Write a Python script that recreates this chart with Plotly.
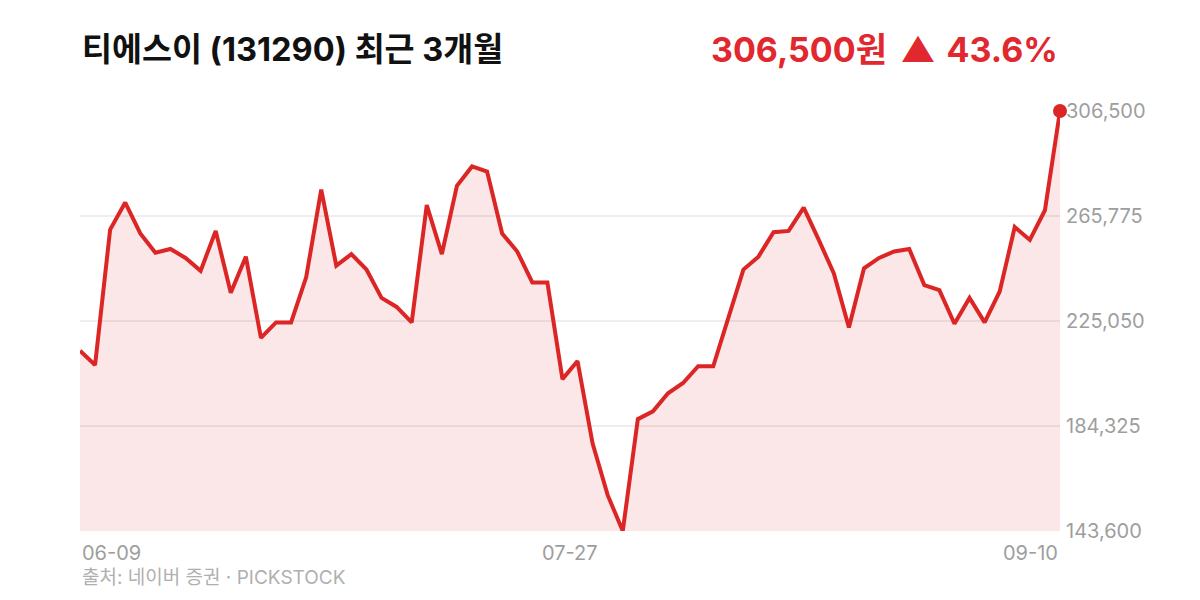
import plotly.graph_objects as go

title_text = "티에스이 (131290) 최근 3개월"
price_text = "306,500원\u00a0\u2009▲\u200a 43.6%"
source_text = "출처: 네이버 증권 · PICKSTOCK"

prices = [
    213500, 208000, 260500, 271000, 259000, 251500, 253000, 249500, 244500, 260000,
    236000, 250000, 218500, 224500, 224500, 242000, 276000, 246500, 251000, 245000,
    234000, 230500, 224500, 270000, 251000, 277500, 285000, 283000, 259000, 252000,
    240000, 240000, 202500, 209500, 177500, 157500, 143600, 187000, 190000, 197000,
    201000, 207500, 207500, 226500, 245000, 250000, 259500, 260000, 269000, 256500,
    243500, 222500, 245500, 249500, 252000, 253000, 239000, 237000, 224000, 234000,
    224500, 236500, 261500, 256500, 268000, 306500,
]
x_labels = ["06-09", "07-27", "09-10"]
y_ticks = [143600, 184325, 225050, 265775, 306500]

RED = "#dc2626"
FONT = "Inter, 'Noto Sans CJK KR', sans-serif"
GRAY = "#9e9e9e"

idx = list(range(len(prices)))
n = len(prices)

fig = go.Figure()
fig.add_trace(go.Scatter(
    x=idx, y=prices, mode="lines",
    line=dict(color=RED, width=4),
    fill="tozeroy", fillcolor="rgba(220,38,38,0.11)",
    hoverinfo="skip", showlegend=False,
))
fig.add_trace(go.Scatter(
    x=[idx[-1]], y=[prices[-1]], mode="markers",
    marker=dict(color=RED, size=14),
    cliponaxis=False, hoverinfo="skip", showlegend=False,
))

fig.update_layout(
    width=1192, height=592,
    margin=dict(l=72, r=140, t=103, b=69),
    paper_bgcolor="white", plot_bgcolor="white",
    font=dict(family=FONT),
    xaxis=dict(range=[0, n - 1], showgrid=False, zeroline=False, showline=False,
               showticklabels=False, ticks=""),
    yaxis=dict(range=[y_ticks[0], y_ticks[-1]], side="right", tickvals=y_ticks,
               ticktext=[f"{v:,}" for v in y_ticks],
               tickfont=dict(size=20, color=GRAY, family=FONT),
               ticklabelstandoff=5,
               showgrid=True, gridcolor="#eeeeee", gridwidth=2,
               zeroline=False, showline=False, ticks=""),
)

annotations = [
    dict(text=f"<b>{title_text}</b>", xref="paper", yref="paper", x=0, y=1.147,
         xanchor="left", yanchor="middle", showarrow=False,
         font=dict(size=32.6, color="#111111", family=FONT)),
    dict(text=f"<b>{price_text}</b>", xref="paper", yref="paper", x=1, y=1.147,
         xanchor="right", yanchor="middle", showarrow=False, xshift=0,
         font=dict(size=34, color="#e0282e", family=FONT)),
    dict(text=x_labels[0], xref="x", yref="paper", x=0, y=-0.053,
         xanchor="left", yanchor="middle", showarrow=False,
         font=dict(size=20, color=GRAY, family=FONT)),
    dict(text=x_labels[1], xref="x", yref="paper", x=(n - 1) / 2, y=-0.053,
         xanchor="center", yanchor="middle", showarrow=False,
         font=dict(size=20, color=GRAY, family=FONT)),
    dict(text=x_labels[2], xref="x", yref="paper", x=n - 1, y=-0.053,
         xanchor="right", yanchor="middle", showarrow=False,
         font=dict(size=20, color=GRAY, family=FONT)),
    dict(text=source_text, xref="paper", yref="paper", x=0, y=-0.11,
         xanchor="left", yanchor="middle", showarrow=False,
         font=dict(size=19, color="#b0b0b0", family=FONT)),
]
fig.update_layout(annotations=annotations)

fig.write_html("out.html")
